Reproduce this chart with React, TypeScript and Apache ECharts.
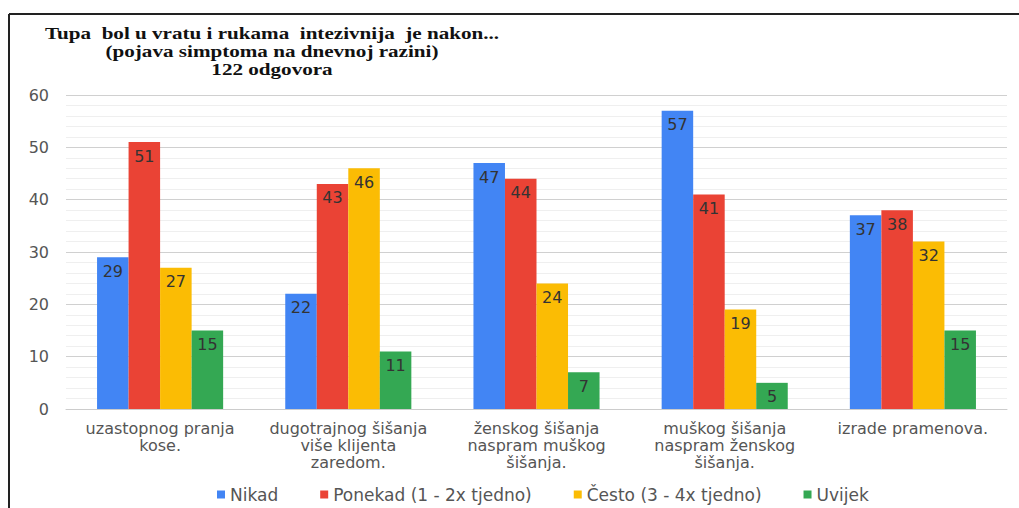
import React, { useEffect, useRef } from "react";
import * as echarts from "echarts";

const categories = [
  "uzastopnog pranja\nkose.",
  "dugotrajnog šišanja\nviše klijenta\nzaredom.",
  "ženskog šišanja\nnaspram muškog\nšišanja.",
  "muškog šišanja\nnaspram ženskog\nšišanja.",
  "izrade pramenova.",
];
const seriesNames = ["Nikad", "Ponekad (1 - 2x tjedno)", "Često (3 - 4x tjedno)", "Uvijek"];
const nikad = [29, 22, 47, 57, 37];
const ponekad = [51, 43, 44, 41, 38];
const cesto = [27, 46, 24, 19, 32];
const uvijek = [15, 11, 7, 5, 15];
const colors = ["#4285F4", "#EA4335", "#FBBC04", "#34A853"];
const titleLines = [
  "Tupa  bol u vratu i rukama  intezivnija  je nakon...",
  "(pojava simptoma na dnevnoj razini)",
  "122 odgovora",
];

const FONT = "DejaVu Sans, Verdana, sans-serif";

export default function App() {
  const ref = useRef<HTMLDivElement>(null);
  useEffect(() => {
    if (!ref.current) return;
    const chart = echarts.init(ref.current, null, { renderer: "svg" });
    const data = [nikad, ponekad, cesto, uvijek];
    chart.setOption({
      animation: false,
      backgroundColor: "#ffffff",
      textStyle: { fontFamily: FONT },
      graphic: [
        { type: "line", shape: { x1: 9, y1: 14, x2: 1019, y2: 14 }, style: { stroke: "#222", lineWidth: 2 } },
        { type: "line", shape: { x1: 9, y1: 14, x2: 9, y2: 508 }, style: { stroke: "#222", lineWidth: 2 } },
        {
          type: "text",
          x: 272,
          y: 24,
          scaleX: 1.32,
          style: {
            text: titleLines.join("\n"),
            textAlign: "center",
            fontFamily: "Liberation Serif, Times New Roman, serif",
            fontWeight: "bold",
            fontSize: 16,
            lineHeight: 18,
            fill: "#111",
          },
        },
      ],
      legend: {
        bottom: 0,
        left: 212,
        icon: "rect",
        itemWidth: 8,
        itemHeight: 8,
        itemGap: 42,
        textStyle: { color: "#555", fontSize: 17, fontFamily: FONT },
        data: seriesNames,
      },
      grid: { left: 66, right: 12, top: 95, bottom: 99 },
      xAxis: {
        type: "category",
        data: categories,
        axisLine: { show: true, lineStyle: { color: "#ccc" } },
        axisTick: { show: false },
        axisLabel: { color: "#555", fontSize: 16, lineHeight: 17, margin: 11, interval: 0, fontFamily: FONT },
      },
      yAxis: {
        type: "value",
        min: 0,
        max: 60,
        interval: 10,
        axisLabel: { color: "#555", fontSize: 16, margin: 17, fontFamily: FONT },
        splitLine: { lineStyle: { color: "#d0d0d0" } },
        minorTick: { show: false, splitNumber: 5 },
        minorSplitLine: { show: true, lineStyle: { color: "#efefef" } },
      },
      series: seriesNames.map((name, i) => ({
        name,
        type: "bar",
        data: data[i],
        barGap: "0%",
        barCategoryGap: "33%",
        itemStyle: { color: colors[i] },
        label: {
          show: true,
          position: "insideTop",
          distance: 6,
          color: "#333",
          fontSize: 16,
          fontFamily: FONT,
        },
      })),
    });
    return () => chart.dispose();
  }, []);
  return (
    <div
      ref={ref}
      style={{ position: "fixed", left: 0, top: 0, width: 1019, height: 508 }}
    />
  );
}
